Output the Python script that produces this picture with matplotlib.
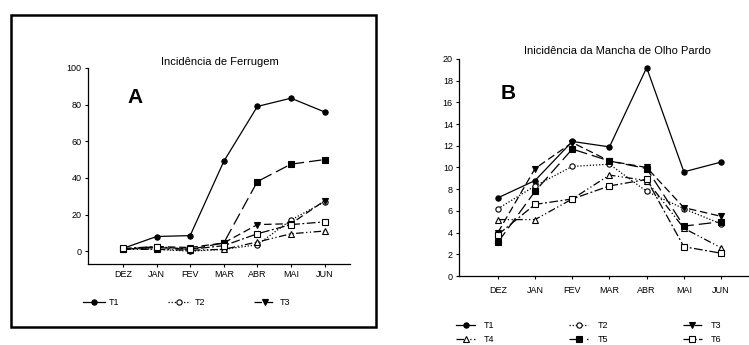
import matplotlib
matplotlib.use("Agg")
import matplotlib.pyplot as plt
import matplotlib.patches as mpatches

meses = ['DEZ', 'JAN', 'FEV', 'MAR', 'ABR', 'MAI', 'JUN']
nomes = ['T1', 'T2', 'T3', 'T4', 'T5', 'T6']

# Incidencia de Ferrugem (A)
ferr_t1 = [1.5, 8, 8.5, 49, 79, 83.5, 76]
ferr_t2 = [1.5, 1, 0, 1, 3.5, 17, 27]
ferr_t3 = [1, 2.5, 2, 4.5, 14.5, 15, 27.5]
ferr_t4 = [1, 1, 0.5, 1, 5, 9.5, 11]
ferr_t5 = [1, 2, 1, 4.5, 38, 47.5, 50]
ferr_t6 = [1.5, 2.5, 1, 3, 9.5, 14.5, 16]

# Incidencia da Mancha de Olho Pardo (B)
mop_t1 = [7.2, 8.8, 12.4, 11.9, 19.2, 9.6, 10.5]
mop_t2 = [6.2, 8.3, 10.1, 10.3, 7.8, 6.2, 4.8]
mop_t3 = [4.0, 9.9, 12.3, 10.6, 10.0, 6.3, 5.5]
mop_t4 = [5.2, 5.2, 7.1, 9.3, 8.8, 4.4, 2.6]
mop_t5 = [3.1, 7.8, 11.7, 10.6, 9.9, 4.6, 5.0]
mop_t6 = [3.8, 6.6, 7.1, 8.3, 8.9, 2.7, 2.1]

estilos = [
    dict(ls='-', marker='o', mfc='black'),
    dict(ls=(0, (1, 1.5)), marker='o', mfc='white'),
    dict(ls=(0, (6, 3)), marker='v', mfc='black'),
    dict(ls=(0, (6, 2, 1, 2, 1, 2)), marker='^', mfc='white'),
    dict(ls=(0, (10, 4)), marker='s', mfc='black'),
    dict(ls=(0, (7, 2, 1.5, 2)), marker='s', mfc='white'),
]

plt.rcParams['font.family'] = ['Liberation Sans', 'DejaVu Sans']

fig = plt.figure(figsize=(7.49, 3.45), dpi=100)


def painel(ax, series, ylim, yticks, xpad):
    linhas = []
    for s, nome, st in zip(series, nomes, estilos):
        l, = ax.plot(range(len(meses)), s, color='black', lw=0.9,
                     ls=st['ls'], marker=st['marker'], mfc=st['mfc'],
                     mec='black', mew=0.8, ms=3.8, label=nome)
        linhas.append(l)
    ax.set_xlim(-1.04, 6.75)
    ax.set_ylim(*ylim)
    ax.set_yticks(yticks)
    ax.set_xticks(range(len(meses)))
    ax.set_xticklabels(meses)
    for sp in ['top', 'right']:
        ax.spines[sp].set_visible(False)
    for sp in ['left', 'bottom']:
        ax.spines[sp].set_linewidth(0.9)
    ax.tick_params(direction='out', length=2.5, width=0.8, labelsize=6.5, pad=2)
    ax.tick_params(axis='x', pad=xpad)
    return linhas


# painel A
axA = fig.add_axes([0.1175, 0.2348, 0.3495, 0.5682])
lA = painel(axA, [ferr_t1, ferr_t2, ferr_t3, ferr_t4, ferr_t5, ferr_t6],
            (-7, 100), [0, 20, 40, 60, 80, 100], 1.5)
fig.text(0.294, 0.82, 'Incidência de Ferrugem', ha='center', va='center', fontsize=8)
fig.text(0.18, 0.718, 'A', ha='center', va='center', fontsize=15, fontweight='bold')
fig.legend(lA[:3], nomes[:3], ncol=3, loc='center left',
           bbox_to_anchor=(0.1, 0.122), frameon=False, fontsize=6.5,
           handlelength=2.4, columnspacing=5.4, handletextpad=0.5)
fig.add_artist(mpatches.Rectangle((11 / 749, 1 - 327 / 345), 365 / 749, 312 / 345,
                                  transform=fig.transFigure, fill=False,
                                  lw=1.8, ec='black'))

# painel B
axB = fig.add_axes([0.613, 0.2, 0.387, 0.629])
lB = painel(axB, [mop_t1, mop_t2, mop_t3, mop_t4, mop_t5, mop_t6],
            (0, 20), list(range(0, 21, 2)), 4.5)
fig.text(0.825, 0.852, 'Inicidência da Mancha de Olho Pardo', ha='center',
         va='center', fontsize=8)
fig.text(0.678, 0.73, 'B', ha='center', va='center', fontsize=15, fontweight='bold')
ordem = [0, 3, 1, 4, 2, 5]
fig.legend([lB[i] for i in ordem], [nomes[i] for i in ordem], ncol=3,
           loc='upper left', bbox_to_anchor=(0.598, 0.093), frameon=False,
           fontsize=6.5, handlelength=2.1, columnspacing=8.3,
           handletextpad=1.0, labelspacing=0.55)

fig.savefig('out.png', dpi=100)
